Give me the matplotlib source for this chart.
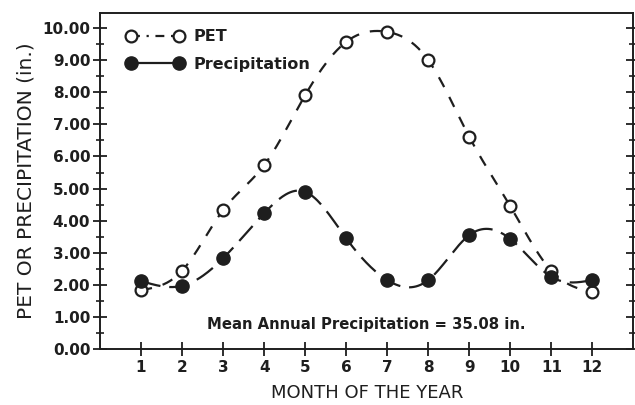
import numpy as np
import matplotlib
matplotlib.use("Agg")
import matplotlib.pyplot as plt
from matplotlib.ticker import MultipleLocator

months = [1, 2, 3, 4, 5, 6, 7, 8, 9, 10, 11, 12]
pet = [1.84, 2.44, 4.33, 5.73, 7.91, 9.57, 9.88, 9.0, 6.61, 4.45, 2.44, 1.77]
precip = [2.12, 1.97, 2.83, 4.23, 4.9, 3.45, 2.15, 2.15, 3.55, 3.43, 2.25, 2.15]
y_ticks = [0, 1, 2, 3, 4, 5, 6, 7, 8, 9, 10]
annotation = "Mean Annual Precipitation = 35.08 in."


def natural_spline(x, y, n=400):
    x = np.asarray(x, float)
    y = np.asarray(y, float)
    m = len(x)
    h = np.diff(x)
    A = np.zeros((m, m))
    b = np.zeros(m)
    A[0, 0] = A[-1, -1] = 1
    for i in range(1, m - 1):
        A[i, i - 1] = h[i - 1]
        A[i, i] = 2 * (h[i - 1] + h[i])
        A[i, i + 1] = h[i]
        b[i] = 3 * ((y[i + 1] - y[i]) / h[i] - (y[i] - y[i - 1]) / h[i - 1])
    c = np.linalg.solve(A, b)
    xs = np.linspace(x[0], x[-1], n)
    idx = np.clip(np.searchsorted(x, xs) - 1, 0, m - 2)
    dx = xs - x[idx]
    bb = (y[idx + 1] - y[idx]) / h[idx] - h[idx] * (2 * c[idx] + c[idx + 1]) / 3
    d = (c[idx + 1] - c[idx]) / (3 * h[idx])
    ys = y[idx] + bb * dx + c[idx] * dx ** 2 + d * dx ** 3
    return xs, ys


ink = "#1e1e1e"
fig = plt.figure(figsize=(6.35, 4.05), dpi=100)
ax = fig.add_axes([0.1575, 0.138, 0.840, 0.830])

xs, ys = natural_spline(months, pet)
ax.plot(xs, ys, color=ink, lw=1.6, ls=(0, (5, 5)), zorder=2)
xs2, ys2 = natural_spline(months, precip)
ax.plot(xs2, ys2, color=ink, lw=1.6, ls=(0, (9, 4)), zorder=2)

ax.plot(months, pet, ls="none", marker="o", ms=8.5, mfc="white", mec=ink, mew=1.6, zorder=3)
ax.plot(months, precip, ls="none", marker="o", ms=9.5, mfc=ink, mec=ink, zorder=4)

# legend handles
h1, = ax.plot([], [], color=ink, lw=1.6, ls=(0, (4, 3, 1, 3)), marker="o", ms=8.5, mfc="white", mec=ink, mew=1.6)
h2, = ax.plot([], [], color=ink, lw=1.6, ls="-", marker="o", ms=9.5, mfc=ink, mec=ink)
leg = ax.legend([h1, h2], ["PET", "Precipitation"], loc="upper left", frameon=False,
                numpoints=2, handlelength=3.6, handletextpad=0.6, labelspacing=0.8,
                prop={"weight": "bold", "size": 11.5}, bbox_to_anchor=(0.028, 0.985), borderaxespad=0.3)
for t in leg.get_texts():
    t.set_color(ink)

ax.set_xlim(0, 13)
ax.set_ylim(0, 10.47)
ax.set_xticks(months)
ax.set_xticklabels([str(m) for m in months])
ax.set_yticks(y_ticks)
ax.set_yticklabels([f"{v:.2f}" for v in y_ticks])
ax.yaxis.set_minor_locator(MultipleLocator(0.5))

for s in ax.spines.values():
    s.set_color(ink)
    s.set_linewidth(1.4)

ax.tick_params(axis="y", which="major", direction="inout", length=10, width=1.3, colors=ink,
               labelsize=11, right=True, pad=2)
ax.tick_params(axis="y", which="minor", direction="inout", length=6, width=1.2, colors=ink, right=True)
ax.tick_params(axis="x", which="major", direction="inout", length=10, width=1.3, colors=ink,
               labelsize=11, pad=3)
for lbl in ax.get_xticklabels() + ax.get_yticklabels():
    lbl.set_fontweight("bold")

ax.set_ylabel("PET OR PRECIPITATION (in.)", fontsize=14.5, color=ink, labelpad=5)
ax.set_xlabel("MONTH OF THE YEAR", fontsize=13, color=ink, labelpad=6)

ax.text(6.5, 0.78, annotation, ha="center", va="center", fontsize=10.7, fontweight="bold", color=ink)

fig.savefig("out.png", dpi=100, facecolor="white")
